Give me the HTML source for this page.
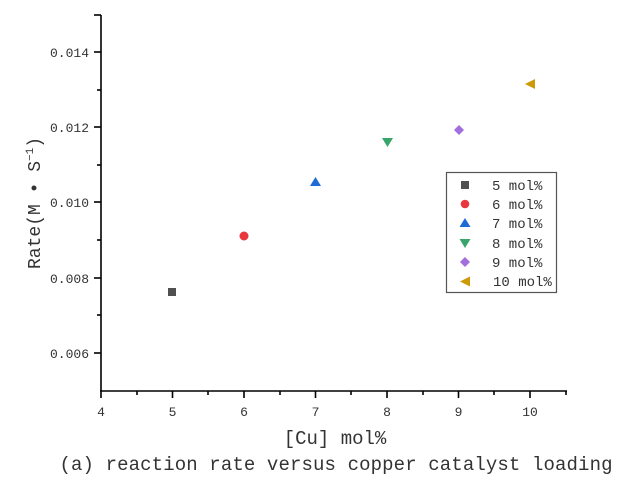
<!DOCTYPE html>
<html><head><meta charset="utf-8"><style>
html,body{margin:0;padding:0;background:#fff;}
svg{display:block;}
text{font-family:"Liberation Mono","Noto Sans CJK SC",monospace;fill:#333;}
</style></head><body>
<svg width="636" height="484" viewBox="0 0 636 484" xmlns="http://www.w3.org/2000/svg">
<g stroke="#000" stroke-width="1.6" fill="none">
<line x1="101" y1="15" x2="101" y2="391"/>
<line x1="100" y1="391" x2="567" y2="391"/>
<!-- y major ticks -->
<line x1="94" y1="52" x2="101" y2="52"/><line x1="94" y1="127" x2="101" y2="127"/>
<line x1="94" y1="202" x2="101" y2="202"/><line x1="94" y1="278" x2="101" y2="278"/>
<line x1="94" y1="353" x2="101" y2="353"/><line x1="94" y1="15" x2="101" y2="15"/>
<!-- y minor -->
<line x1="97" y1="90" x2="101" y2="90"/><line x1="97" y1="165" x2="101" y2="165"/>
<line x1="97" y1="240" x2="101" y2="240"/><line x1="97" y1="315" x2="101" y2="315"/>
<!-- x major -->
<line x1="101" y1="391" x2="101" y2="398"/><line x1="172.5" y1="391" x2="172.5" y2="398"/>
<line x1="244" y1="391" x2="244" y2="398"/><line x1="315.5" y1="391" x2="315.5" y2="398"/>
<line x1="387" y1="391" x2="387" y2="398"/><line x1="458.5" y1="391" x2="458.5" y2="398"/>
<line x1="530" y1="391" x2="530" y2="398"/>
<!-- x minor -->
<line x1="137" y1="391" x2="137" y2="395"/><line x1="208" y1="391" x2="208" y2="395"/>
<line x1="280" y1="391" x2="280" y2="395"/><line x1="351" y1="391" x2="351" y2="395"/>
<line x1="423" y1="391" x2="423" y2="395"/><line x1="494" y1="391" x2="494" y2="395"/>
<line x1="566" y1="391" x2="566" y2="395"/>
</g>
<g font-size="13" text-anchor="end">
<text x="89" y="57">0.014</text><text x="89" y="132">0.012</text>
<text x="89" y="207">0.010</text><text x="89" y="283">0.008</text>
<text x="89" y="358">0.006</text>
</g>
<g font-size="13" text-anchor="middle">
<text x="101" y="416">4</text><text x="172.5" y="416">5</text><text x="244" y="416">6</text>
<text x="315.5" y="416">7</text><text x="387" y="416">8</text><text x="458.5" y="416">9</text>
<text x="530" y="416">10</text>
</g>
<text x="335" y="444" font-size="19" text-anchor="middle">[Cu] mol%</text>
<text x="336" y="470" font-size="19" text-anchor="middle" textLength="553">(a) reaction rate versus copper catalyst loading</text>
<text transform="translate(40,203) rotate(-90)" font-size="18" text-anchor="middle">Rate(M • S<tspan font-size="11" dy="-7">−1</tspan><tspan dy="7">)</tspan></text>
<!-- points -->
<rect x="168" y="288" width="8" height="8" fill="#505050"/>
<circle cx="244" cy="236" r="4.5" fill="#e8383d"/>
<polygon points="315.5,177 321,186 310,186" fill="#1f6bd6"/>
<polygon points="382,138 393,138 387.5,147" fill="#3aa56a"/>
<polygon points="459,125 464,130 459,135 454,130" fill="#a36fdc"/>
<polygon points="525,84 535,79 535,89" fill="#cc9a06"/>
<!-- legend -->
<rect x="446.5" y="172.5" width="110" height="120" fill="#fff" stroke="#555" stroke-width="1.2"/>
<rect x="461" y="181" width="8" height="8" fill="#505050"/>
<circle cx="465" cy="204" r="4.3" fill="#e8383d"/>
<polygon points="465,218 470.5,227 459.5,227" fill="#1f6bd6"/>
<polygon points="459.5,239 470.5,239 465,248" fill="#3aa56a"/>
<polygon points="465,257 470,262 465,267 460,262" fill="#a36fdc"/>
<polygon points="460,281.5 470,276.5 470,286.5" fill="#cc9a06"/>
<g font-size="14">
<text x="492" y="190">5 mol%</text><text x="492" y="209">6 mol%</text>
<text x="492" y="228">7 mol%</text><text x="492" y="248">8 mol%</text>
<text x="492" y="267">9 mol%</text><text x="493" y="286">10 mol%</text>
</g>
</svg>
</body></html>
